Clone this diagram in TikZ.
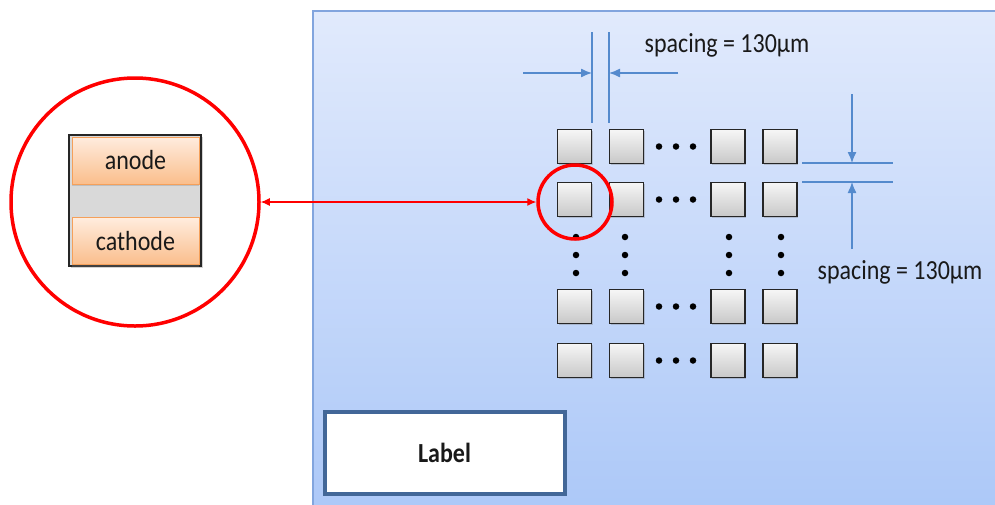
\documentclass[tikz,border=0pt]{standalone}
\usepackage{fontspec}
\setmainfont{Carlito}
\usepackage{graphicx}
\usetikzlibrary{arrows.meta,shadows}
\definecolor{panelTop}{RGB}{225,234,252}
\definecolor{panelBot}{RGB}{172,200,248}
\definecolor{panelEdge}{RGB}{130,165,222}
\definecolor{dimBlue}{RGB}{84,138,205}
\definecolor{labEdge}{RGB}{66,103,152}
\definecolor{orTop}{RGB}{255,236,222}
\definecolor{orBot}{RGB}{250,190,140}
\definecolor{orEdge}{RGB}{245,160,90}
\definecolor{padTop}{RGB}{246,246,246}
\definecolor{padBot}{RGB}{200,200,200}
\newcommand\tx[1]{\scalebox{1}[1.15]{#1}}
\tikzset{
  pad/.style={rectangle, draw=black!85, line width=1.6pt, top color=padTop, bottom color=padBot,
    minimum size=34pt, inner sep=0pt, drop shadow={shadow xshift=1pt, shadow yshift=-1pt, opacity=0.35}},
  dotn/.style={circle, fill=black, minimum size=6.5pt, inner sep=0pt},
  ring/.style={circle, draw=red, line width=3.5pt, inner sep=0pt},
  dim/.style={draw=dimBlue, line width=1.3pt},
  dimarrow/.style={dim, -{Latex[length=11pt,width=9pt]}},
  elec/.style={rectangle, draw=orEdge, line width=1pt, top color=orTop, bottom color=orBot,
    minimum width=127pt, minimum height=47pt, inner sep=0pt,
    drop shadow={shadow xshift=0pt, shadow yshift=-2pt, opacity=0.3}},
  txt/.style={font=\fontsize{24}{28}\selectfont, text=black!90, inner sep=0pt}
}
\begin{document}
\begin{tikzpicture}[x=1pt,y=-1pt]
\useasboundingbox (0,0) rectangle (995,504);
% panel
\path[draw=panelEdge, line width=2pt, top color=panelTop, bottom color=panelBot] (313,11) rectangle (1000,512);
% pads
\foreach \c/\x in {1/574.5,2/626.5,3/728,4/780}{
  \foreach \r/\y in {1/146.5,2/199.5,3/306.5,4/360.5}{
    \node[pad] (s\r\c) at (\x,\y) {};
  }
}
% horizontal dots
\foreach \r/\y in {1/146.5,2/199.5,3/306.5,4/360.5}{
  \foreach \i/\x in {1/659,2/676,3/693}{
    \node[dotn] (hd\r\i) at (\x,\y) {};
  }
}
% vertical dots
\foreach \c/\x in {1/576,2/625,3/729,4/781}{
  \foreach \i/\y in {1/237,2/255,3/273}{
    \node[dotn] (vd\c\i) at (\x,\y) {};
  }
}
% dimension: horizontal spacing
\coordinate (hl1t) at (592,32); \coordinate (hl1b) at (592,123);
\coordinate (hl2t) at (609,32); \coordinate (hl2b) at (609,123);
\draw[dim] (hl1t) -- (hl1b);
\draw[dim] (hl2t) -- (hl2b);
\coordinate (haS) at (523,73); \coordinate (haE) at (592,73);
\coordinate (hbS) at (678,73); \coordinate (hbE) at (609,73);
\draw[dimarrow] (haS) -- (haE);
\draw[dimarrow] (hbS) -- (hbE);
\node[txt] (tH) at (727,45) {\tx{spacing = 130μm}};
% dimension: vertical spacing
\coordinate (vl1l) at (802,163); \coordinate (vl1r) at (893,163);
\coordinate (vl2l) at (802,182); \coordinate (vl2r) at (893,182);
\draw[dim] (vl1l) -- (vl1r);
\draw[dim] (vl2l) -- (vl2r);
\coordinate (vaS) at (852,94); \coordinate (vaE) at (852,163);
\coordinate (vbS) at (852,249); \coordinate (vbE) at (852,182);
\draw[dimarrow] (vaS) -- (vaE);
\draw[dimarrow] (vbS) -- (vbE);
\node[txt] (tV) at (900,272) {\tx{spacing = 130μm}};
% label box
\node[rectangle, draw=labEdge, line width=4pt, fill=white, minimum width=240pt, minimum height=82pt,
  drop shadow={shadow xshift=1pt, shadow yshift=-1pt, opacity=0.3}] (lab) at (444.5,452.5) {};
\node[txt, font=\fontsize{24}{28}\selectfont\bfseries] (labt) at (lab.center) {\tx{Label}};
% zoom detail
\node[rectangle, draw=black!85, line width=1.5pt, fill=black!15, minimum width=132pt, minimum height=131pt,
  drop shadow={shadow xshift=2pt, shadow yshift=-2pt, opacity=0.35}] (cell) at (135,200.5) {};
\node[elec] (anode) at (135.5,160.5) {};
\node[txt] at (anode.center) {\tx{anode}};
\node[elec] (cathode) at (135.5,241) {};
\node[txt] at (cathode.center) {\tx{cathode}};
% red circles
\node[ring, minimum size=248pt] (big) at (135,202) {};
\node[ring, minimum size=74pt] (small) at (575,202) {};
\draw[red, line width=1.2pt, {Latex[length=9pt,width=8pt]}-{Latex[length=9pt,width=8pt]}] (big.east) -- (small.west);
\end{tikzpicture}
\end{document}
